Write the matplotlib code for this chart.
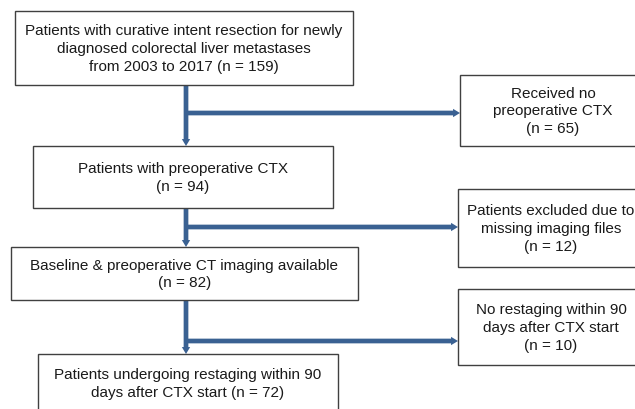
import matplotlib
matplotlib.use("Agg")
import matplotlib.pyplot as plt
from matplotlib.patches import Rectangle, FancyArrowPatch

plt.rcParams['font.family'] = ['Liberation Sans', 'DejaVu Sans']

# ---- content ----
main_labels = [
    "Patients with curative intent resection for newly\ndiagnosed colorectal liver metastases\nfrom 2003 to 2017",
    "Patients with preoperative CTX",
    "Baseline & preoperative CT imaging available",
    "Patients undergoing restaging within 90\ndays after CTX start",
]
main_counts = [159, 94, 82, 72]
main_count_newline = [False, True, True, False]

side_labels = [
    "Received no\npreoperative CTX",
    "Patients excluded due to\nmissing imaging files",
    "No restaging within 90\ndays after CTX start",
]
side_counts = [65, 12, 10]

# ---- layout (pixels, y downward) ----
main_boxes = [(15, 12, 353, 86), (33, 147, 333, 209), (11, 248, 358, 301), (38, 355, 338, 430)]
side_boxes = [(460, 76, 646, 147), (458, 190, 644, 268), (458, 290, 644, 366)]
arrow_x = 186
branch_y = [114, 228, 342]

BLUE = '#3A6192'
EDGE = '#404040'

fig = plt.figure(figsize=(6.35, 4.10), dpi=100)
ax = fig.add_axes([0, 0, 1, 1])
ax.set_xlim(0, 635)
ax.set_ylim(410, 0)
ax.axis('off')

def box(b, text):
    x0, y0, x1, y1 = b
    ax.add_patch(Rectangle((x0, y0), x1 - x0, y1 - y0, fill=True, facecolor='white',
                           edgecolor=EDGE, lw=1.0, zorder=2))
    cy = (y0 + y1) / 2 if y1 <= 410 else y0 + 29
    ax.text((x0 + x1) / 2, cy, text, ha='center', va='center', multialignment='center',
            fontsize=11, color='#1a1a1a', linespacing=1.35, zorder=3)

for b, lab, n, nl in zip(main_boxes, main_labels, main_counts, main_count_newline):
    sep = "\n" if nl else " "
    box(b, f"{lab}{sep}(n = {n})")

for b, lab, n in zip(side_boxes, side_labels, side_counts):
    box(b, f"{lab}\n(n = {n})")

style = "simple, head_length=5, head_width=6, tail_width=3.4"

def arrow(p0, p1):
    a = FancyArrowPatch(p0, p1, arrowstyle=style, mutation_scale=1, color=BLUE,
                        lw=0, shrinkA=0, shrinkB=0, zorder=1)
    ax.add_patch(a)

for i in range(3):
    top = main_boxes[i][3]
    nxt = main_boxes[i + 1][1]
    arrow((arrow_x, top), (arrow_x, nxt))
    arrow((arrow_x - 1, branch_y[i]), (side_boxes[i][0], branch_y[i]))

fig.savefig("out.png", dpi=100)
